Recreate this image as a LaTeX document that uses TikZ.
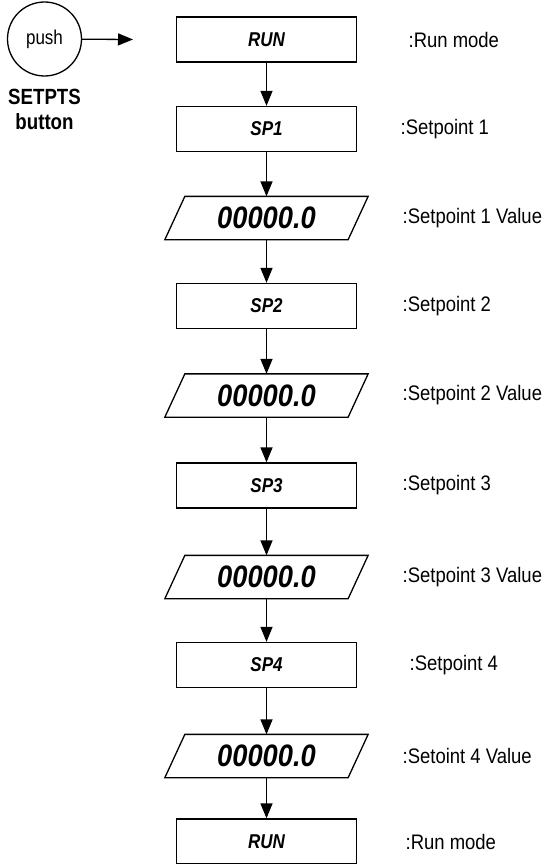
\documentclass[tikz,border=0pt]{standalone}
\usepackage{fontspec}
\setmainfont{Liberation Sans}
\newfontfamily\nf[FakeStretch=0.85]{Liberation Sans}
\newfontfamily\nfl[FakeStretch=0.88]{Liberation Sans}
\usetikzlibrary{arrows.meta}
\begin{document}
\begin{tikzpicture}[x=1pt,y=-1pt,
  line width=1.3pt,
  box/.style={draw,rectangle,minimum width=180pt,minimum height=45pt,inner sep=0pt,
    font=\nf\fontsize{20}{20}\selectfont\bfseries\itshape},
  para/.style={rectangle,minimum width=182pt,minimum height=42pt,inner sep=0pt,
    font=\nfl\fontsize{31}{31}\selectfont\bfseries\itshape},
  lbl/.style={anchor=west,inner sep=0pt,font=\nfl\fontsize{21}{21}\selectfont},
  arr/.style={-{Triangle[length=15pt,width=12pt]}}]
\useasboundingbox (0,0) rectangle (544,864);
\node[draw,circle,minimum size=74pt,inner sep=0pt,font=\nf\fontsize{20}{20}\selectfont] (push) at (44.5,39) {push};
\node[font=\nf\fontsize{22}{22}\selectfont\bfseries,align=center,inner sep=0pt] (sbtn) at (44.5,97) {SETPTS};
\node[font=\nf\fontsize{22}{22}\selectfont\bfseries,align=center,inner sep=0pt] (sbtn2) at (44.5,122) {button};
\coordinate (pend) at (133,39.5);
\draw[arr] (push) -- (pend);

\def\cx{266.5}
\node[box] (run1) at (\cx,39.5) {RUN};
\node[box] (sp1) at (\cx,129) {SP1};
\node[para] (p1) at (\cx,218) {00000.0};
\node[box] (sp2) at (\cx,306) {SP2};
\node[para] (p2) at (\cx,395.5) {00000.0};
\node[box] (sp3) at (\cx,485.5) {SP3};
\node[para] (p3) at (\cx,577) {00000.0};
\node[box] (sp4) at (\cx,665) {SP4};
\node[para] (p4) at (\cx,756) {00000.0};
\node[box] (run2) at (\cx,841.5) {RUN};

\foreach \p in {p1,p2,p3,p4}{
  \draw ([xshift=10pt]\p.north west) -- ([xshift=10pt]\p.north east)
     -- ([xshift=-10pt]\p.south east) -- ([xshift=-10pt]\p.south west) -- cycle;
}

\draw[arr] (run1) -- (sp1);
\draw[arr] (sp1) -- (p1);
\draw[arr] (p1) -- (sp2);
\draw[arr] (sp2) -- (p2);
\draw[arr] (p2) -- (sp3);
\draw[arr] (sp3) -- (p3);
\draw[arr] (p3) -- (sp4);
\draw[arr] (sp4) -- (p4);
\draw[arr] (p4) -- (run2);

\node[lbl] (l0) at (408,39.5) {:Run mode};
\node[lbl] (l1) at (400,129) {:Setpoint 1};
\node[lbl] (l2) at (402,218) {:Setpoint 1 Value};
\node[lbl] (l3) at (402,306) {:Setpoint 2};
\node[lbl] (l4) at (402,395.5) {:Setpoint 2 Value};
\node[lbl] (l5) at (402,485.5) {:Setpoint 3};
\node[lbl] (l6) at (402,577) {:Setpoint 3 Value};
\node[lbl] (l7) at (409,665) {:Setpoint 4};
\node[lbl] (l8) at (402,756) {:Setoint 4 Value};
\node[lbl] (l9) at (405,841.5) {:Run mode};
\end{tikzpicture}
\end{document}
